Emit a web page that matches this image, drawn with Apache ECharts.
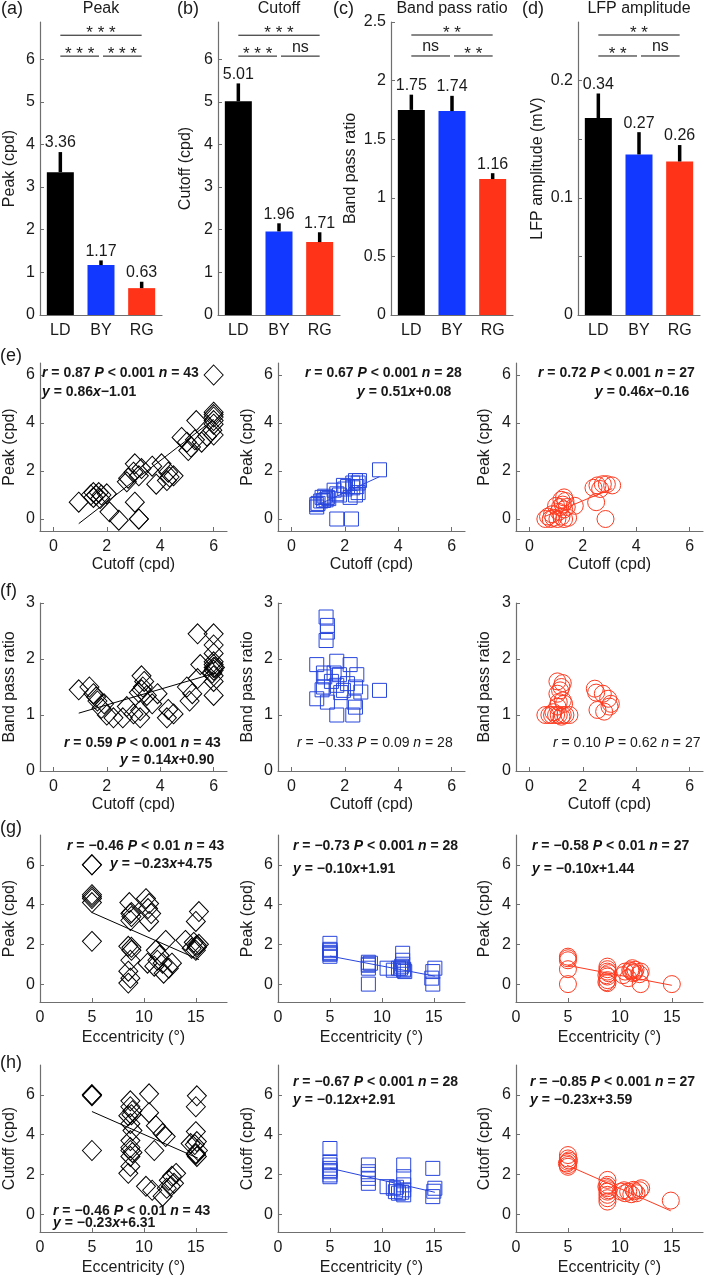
<!DOCTYPE html>
<html><head><meta charset="utf-8">
<script src="https://cdn.jsdelivr.net/npm/echarts@6/dist/echarts.min.js"></script>
<style>html,body{margin:0;padding:0;background:#fff}#c{width:704px;height:1278px}</style>
</head><body><div id="c"></div>
<script>
// ================= DATA =================
const groups = ['LD', 'BY', 'RG'];

const peakMean = [3.35, 1.17, 0.63];
const peakErrTop = [3.82, 1.28, 0.78];
const peakLabel = ['3.36', '1.17', '0.63'];
const peakSig = ['***', '***', '***'];          // LD-RG, LD-BY, BY-RG

const cutoffMean = [5.01, 1.96, 1.71];
const cutoffErrTop = [5.43, 2.15, 1.94];
const cutoffLabel = ['5.01', '1.96', '1.71'];
const cutoffSig = ['***', '***', 'ns'];

const bprMean = [1.75, 1.74, 1.16];
const bprErrTop = [1.88, 1.87, 1.21];
const bprLabel = ['1.75', '1.74', '1.16'];
const bprSig = ['**', 'ns', '**'];

const lfpMean = [0.168, 0.137, 0.131];
const lfpErrTop = [0.189, 0.156, 0.145];
const lfpLabel = ['0.34', '0.27', '0.26'];
const lfpSig = ['**', '**', 'ns'];

// (e) Peak vs Cutoff
const peakCutLD = [[6.0,6.0],[6.0,4.45],[6.0,4.35],[6.0,4.25],[6.0,4.1],[6.0,3.95],[5.95,3.7],[6.0,3.5],[5.35,4.1],[4.8,3.4],[5.0,3.2],[5.15,3.0],[5.05,2.85],[5.3,3.3],[5.55,3.2],[5.75,3.45],[3.05,2.3],[3.3,2.1],[3.0,1.95],[2.8,1.7],[3.2,1.8],[3.7,2.2],[4.05,2.3],[4.3,1.95],[4.35,1.75],[3.85,1.45],[4.5,1.8],[4.25,1.6],[1.4,1.0],[1.5,1.1],[1.6,1.0],[1.7,1.1],[1.75,0.85],[1.8,1.0],[1.5,0.9],[2.0,1.05],[0.95,0.7],[2.1,0.3],[2.45,-0.05],[3.05,0.7],[3.2,0.0],[3.2,0.0],[2.75,1.55]];
const peakCutBY = [[3.3,2.05],[2.3,1.5],[2.4,1.6],[2.5,1.5],[2.45,1.35],[2.3,1.3],[2.55,1.6],[2.4,1.0],[2.2,0.9],[1.95,1.4],[2.0,1.25],[1.7,1.05],[1.8,1.0],[1.35,0.9],[1.2,0.77],[1.15,0.9],[1.3,0.8],[1.0,0.65],[0.95,0.5],[0.95,0.6],[1.1,0.75],[1.25,0.95],[1.6,1.2],[2.1,1.35],[1.7,0.0],[2.25,0.0],[1.4,0.85],[2.5,1.1]];
const peakCutRG = [[2.85,0.0],[2.5,0.7],[2.4,1.3],[2.55,1.4],[2.75,1.45],[2.9,1.45],[3.1,1.4],[2.65,1.25],[1.7,0.55],[1.3,0.9],[1.2,0.8],[1.35,0.75],[1.25,0.6],[1.0,0.55],[1.15,0.5],[1.4,0.5],[1.3,0.4],[0.6,0.0],[0.8,0.0],[0.9,0.05],[1.05,0.0],[1.2,0.1],[1.3,0.0],[1.45,0.05],[0.7,0.1],[1.1,0.3],[0.85,0.2]];
const peakCutFit = [[0.86,-1.01],[0.51,0.08],[0.46,-0.16]];

// (f) Band pass ratio vs Cutoff
const bprCutLD = [[6.0,2.45],[5.4,2.45],[6.0,2.25],[6.0,2.1],[6.0,1.95],[6.0,1.9],[6.0,1.85],[6.0,1.8],[5.95,1.75],[6.05,1.85],[6.0,1.7],[6.0,1.6],[6.0,1.35],[5.5,1.9],[5.4,1.65],[5.0,1.5],[5.2,1.38],[5.1,1.25],[4.3,1.1],[4.5,1.02],[4.25,0.95],[3.9,1.38],[3.7,1.2],[3.3,1.7],[3.4,1.6],[3.35,1.5],[3.3,1.45],[3.2,1.4],[3.5,1.35],[3.25,1.08],[3.25,0.95],[3.0,1.02],[2.75,1.15],[2.6,0.95],[0.95,1.45],[1.35,1.5],[1.5,1.38],[1.6,1.32],[1.65,1.25],[1.8,1.12],[2.0,1.0],[2.25,0.95],[1.9,1.2]];
const bprCutBY = [[1.3,2.75],[1.35,2.6],[1.35,2.48],[1.3,2.33],[0.95,1.9],[1.7,1.96],[2.2,1.9],[1.2,1.75],[1.6,1.75],[1.25,1.68],[1.8,1.72],[2.45,1.72],[1.2,1.5],[1.15,1.45],[1.7,1.53],[2.1,1.56],[2.4,1.5],[2.6,1.41],[1.95,1.44],[1.85,1.4],[3.3,1.44],[0.95,1.29],[1.35,1.23],[2.35,1.23],[2.4,1.14],[1.7,1.0],[2.3,1.0],[1.5,1.6]];
const bprCutRG = [[1.05,1.6],[1.25,1.57],[1.2,1.5],[1.15,1.44],[1.05,1.38],[1.1,1.23],[1.25,1.26],[1.3,1.2],[1.05,1.15],[0.6,1.0],[0.75,1.0],[0.85,1.0],[1.0,1.0],[1.1,1.0],[1.25,1.0],[1.35,1.0],[1.5,1.0],[0.9,1.05],[1.2,0.97],[2.45,1.47],[2.5,1.4],[2.75,1.38],[2.95,1.29],[3.05,1.2],[2.55,1.09],[2.8,1.06],[3.0,1.15]];
const bprCutFit = [[0.14,0.90], null, null];

// (g) Peak vs Eccentricity
const peakEccLD = [[5,6.0],[5,6.0],[5,4.5],[5,4.4],[5,4.3],[5,4.1],[5,2.15],[8.6,4.1],[8.7,3.55],[8.8,3.4],[8.7,3.2],[8.8,3.6],[8.5,1.9],[8.8,1.7],[8.7,1.2],[8.5,0.65],[8.7,0.3],[8.5,0.05],[8.8,1.85],[10.2,4.3],[10.5,4.05],[10.4,3.8],[10.7,3.55],[10.5,3.15],[10.35,1.05],[12.1,2.2],[11.15,1.7],[11.5,1.45],[11.3,1.2],[11.8,1.05],[11.0,0.9],[11.9,0.55],[12.7,1.05],[12.4,0.8],[15.3,3.65],[15.0,3.15],[14.0,2.2],[14.8,2.1],[15.1,1.95],[15.0,1.7],[15.3,2.0],[14.6,1.8],[15.1,1.85]];
const peakEccBY = [[5,2.05],[5,1.7],[5,1.55],[5,1.4],[5,1.6],[5,1.75],[5,1.5],[8.7,1.1],[8.7,0.95],[8.7,0.8],[8.7,1.0],[8.7,0.0],[8.9,1.05],[10.5,0.8],[11.1,0.7],[12.0,1.55],[12.0,1.2],[11.8,0.8],[12.1,0.7],[11.9,0.9],[12.2,0.63],[11.6,0.8],[12.0,1.0],[12.1,0.75],[15.1,0.8],[14.9,0.63],[14.8,0.3],[14.9,0.0]];
const peakEccRG = [[5,1.38],[5,1.3],[5,1.2],[5,0.75],[5,0.0],[8.8,0.88],[8.8,0.63],[8.8,0.38],[8.8,0.2],[8.8,0.05],[8.7,0.45],[8.9,0.55],[8.8,0.75],[10.5,0.63],[11.0,0.7],[11.2,0.8],[11.5,0.72],[11.3,0.55],[10.8,0.3],[11.1,0.65],[11.4,0.6],[12.0,0.63],[12.0,0.0],[11.9,0.5],[15.0,0.0],[10.3,0.45],[8.7,0.1]];
const peakEccFit = [[-0.23,4.75],[-0.10,1.91],[-0.10,1.44]];

// (h) Cutoff vs Eccentricity
const cutEccLD = [[5,6.0],[5,6.0],[5,5.95],[5,3.2],[8.7,5.7],[8.7,5.4],[8.9,5.2],[8.5,4.95],[8.7,4.55],[8.9,4.2],[8.7,3.7],[8.7,3.35],[8.9,3.1],[8.7,2.9],[8.7,2.4],[8.5,2.05],[8.8,5.0],[8.7,3.2],[10.5,6.05],[10.5,5.1],[11.15,4.45],[11.8,4.05],[12.1,3.9],[11.0,3.2],[10.2,1.4],[10.8,1.2],[11.8,0.9],[12.4,1.7],[12.7,1.9],[12.9,1.55],[12.6,1.4],[13.1,2.05],[12.2,1.3],[15.1,5.95],[15.0,5.4],[15.0,4.15],[14.9,3.5],[15.1,3.65],[15.0,3.05],[15.1,2.9],[15.2,3.2],[14.5,3.55],[15.0,3.0]];
const cutEccBY = [[5,3.3],[5,2.63],[5,2.47],[5,2.3],[5,2.13],[5,1.97],[5,1.88],[5,2.2],[8.7,2.47],[8.7,2.13],[8.7,1.8],[8.7,1.55],[8.7,2.0],[10.5,1.38],[11.1,1.3],[11.3,1.13],[11.6,1.05],[11.4,1.35],[12.1,2.47],[12.1,1.88],[12.1,1.47],[12.1,1.22],[12.1,0.97],[11.9,1.1],[14.9,2.3],[15.1,1.3],[14.9,0.88],[15.0,1.15]];
const cutEccRG = [[5,2.97],[5,2.8],[5,2.63],[5,2.47],[5,2.38],[4.9,2.55],[5.1,2.7],[8.8,1.72],[8.8,1.47],[8.8,1.3],[8.8,1.13],[8.8,0.97],[8.8,0.8],[8.8,0.63],[8.7,1.38],[8.9,1.2],[10.1,1.13],[10.5,1.05],[10.8,1.13],[11.3,1.22],[11.6,1.05],[12.05,1.3],[10.4,1.2],[11.4,1.15],[11.1,1.0],[11.9,1.2],[14.9,0.68]];
const cutEccFit = [[-0.23,6.31],[-0.12,2.91],[-0.23,3.59]];

// annotation texts
const peakCutStats = [['{i|r} = 0.87 {i|P} < 0.001 {i|n} = 43', '{i|y} = 0.86{i|x}\u22121.01'], ['{i|r} = 0.67 {i|P} < 0.001 {i|n} = 28', '{i|y} = 0.51{i|x}+0.08'], ['{i|r} = 0.72 {i|P} < 0.001 {i|n} = 27', '{i|y} = 0.46{i|x}\u22120.16']];
const bprCutStats = [['{i|r} = 0.59 {i|P} < 0.001 {i|n} = 43', '{i|y} = 0.14{i|x}+0.90'], ['{j|r} = \u22120.33 {j|P} = 0.09 {j|n} = 28'], ['{j|r} = 0.10 {j|P} = 0.62 {j|n} = 27']];
const peakEccStats = [['{i|r} = \u22120.46 {i|P} < 0.01 {i|n} = 43', '{i|y} = \u22120.23{i|x}+4.75'], ['{i|r} = \u22120.73 {i|P} < 0.001 {i|n} = 28', '{i|y} = \u22120.10{i|x}+1.91'], ['{i|r} = \u22120.58 {i|P} < 0.01 {i|n} = 27', '{i|y} = \u22120.10{i|x}+1.44']];
const cutEccStats = [['{i|r} = \u22120.46 {i|P} < 0.01 {i|n} = 43', '{i|y} = \u22120.23{i|x}+6.31'], ['{i|r} = \u22120.67 {i|P} < 0.001 {i|n} = 28', '{i|y} = \u22120.12{i|x}+2.91'], ['{i|r} = \u22120.85 {i|P} < 0.001 {i|n} = 27', '{i|y} = \u22120.23{i|x}+3.59']];

// ================= STYLE / LAYOUT =================
const FONT = '"Liberation Sans", Arial, Helvetica, sans-serif';
const AXIS = '#6f6f6f';
const TXT = '#1a1a1a';
const FS = 16;
const barColors = ['#000000', '#1238ff', '#ff3318'];
const markColors = ['#000000', '#2846dc', '#ff3a1f'];
const markSymbols = ['diamond', 'rect', 'circle'];
const markSizes = [[19, 20], 14, 17];

const grids = [], xAxes = [], yAxes = [], series = [], graphics = [];

function addText(text, x, y, o) {
  o = o || {};
  graphics.push({ type: 'text', x: x, y: y, silent: true, z: 100, style: {
    text: text, fill: TXT, fontSize: o.size || FS, fontFamily: FONT, fontWeight: o.weight || 'normal',
    align: o.align || 'left', verticalAlign: o.valign || 'middle', rich: o.rich
  }});
}

function baseAxis() {
  return {
    axisLine: { show: true, onZero: false, lineStyle: { color: AXIS, width: 1.2 } },
    axisTick: { show: true, inside: true, length: 4, lineStyle: { color: AXIS, width: 1 } },
    axisLabel: { color: TXT, fontSize: FS, fontFamily: FONT },
    splitLine: { show: false },
    nameTextStyle: { color: TXT, fontSize: FS, fontFamily: FONT },
    nameLocation: 'middle'
  };
}

// ---- bar panels ----
const barPanels = [
  { tag: '(a)', tagX: 1, title: 'Peak', yName: 'Peak (cpd)', mean: peakMean, err: peakErrTop, lab: peakLabel, sig: peakSig, ymax: 6.87, ticks: [0,1,2,3,4,5,6], labs: [0,1,2,3,4,5,6], sigY: [6.56, 6.07], left: 40, gap: 22 },
  { tag: '(b)', tagX: 177, title: 'Cutoff', yName: 'Cutoff (cpd)', mean: cutoffMean, err: cutoffErrTop, lab: cutoffLabel, sig: cutoffSig, ymax: 6.87, ticks: [0,1,2,3,4,5,6], labs: [0,1,2,3,4,5,6], sigY: [6.56, 6.07], left: 218, gap: 24.5 },
  { tag: '(c)', tagX: 333, title: 'Band pass ratio', yName: 'Band pass ratio', mean: bprMean, err: bprErrTop, lab: bprLabel, sig: bprSig, ymax: 2.5, ticks: [0,0.5,1,1.5,2,2.5], labs: [0,0.5,1,1.5,2,2.5], sigY: [2.389, 2.21], left: 391, gap: 32.5 },
  { tag: '(d)', tagX: 522, title: 'LFP amplitude', yName: 'LFP amplitude (mV)', mean: lfpMean, err: lfpErrTop, lab: lfpLabel, sig: lfpSig, ymax: 0.25, ticks: [0,0.05,0.1,0.15,0.2], labs: [0,0.1,0.2], sigY: [0.2389, 0.221], left: 578, gap: 32.5 }
];

barPanels.forEach((p, i) => {
  grids.push({ left: p.left, top: 22, width: 122, height: 293, containLabel: false, outerBoundsMode: 'none' });
  const xa = baseAxis();
  Object.assign(xa, { type: 'category', gridIndex: i, data: groups });
  xa.axisTick = { show: false };
  xa.axisLabel = Object.assign({}, xa.axisLabel, { margin: 8, interval: 0 });
  xAxes.push(xa);
  const ya = baseAxis();
  Object.assign(ya, { type: 'value', gridIndex: i, min: 0, max: p.ymax, name: p.yName, nameGap: p.gap });
  ya.axisTick = Object.assign({}, ya.axisTick, { customValues: p.ticks });
  ya.axisLabel = Object.assign({}, ya.axisLabel, { margin: 5, customValues: p.labs });
  yAxes.push(ya);
  series.push({ type: 'bar', xAxisIndex: i, yAxisIndex: i, barWidth: 27, silent: true,
    data: p.mean.map((v, j) => ({ value: v, itemStyle: { color: barColors[j] } })) });
  const lab = p.lab;
  series.push({ type: 'custom', xAxisIndex: i, yAxisIndex: i, silent: true, z: 4, clip: false,
    data: p.mean.map((v, j) => [j, v, p.err[j]]),
    renderItem: (params, api) => {
      const a = api.coord([api.value(0), api.value(1)]);
      const b = api.coord([api.value(0), api.value(2)]);
      return { type: 'group', children: [
        { type: 'line', shape: { x1: a[0], y1: a[1], x2: b[0], y2: b[1] }, style: { stroke: '#000', lineWidth: 3.5 } },
        { type: 'text', style: { text: lab[params.dataIndex], x: b[0], y: b[1] - 1, align: 'center', verticalAlign: 'bottom', fontSize: FS, fontFamily: FONT, fill: TXT } }
      ]};
    } });
  const sig = p.sig;
  series.push({ type: 'custom', xAxisIndex: i, yAxisIndex: i, silent: true, z: 5, clip: false,
    data: [[0, 2, p.sigY[0], 0], [0, 1, p.sigY[1], 1], [1, 2, p.sigY[1], 2]],
    renderItem: (params, api) => {
      const a = api.coord([api.value(0), api.value(2)]);
      const b = api.coord([api.value(1), api.value(2)]);
      const k = api.value(3);
      let x1 = a[0], x2 = b[0];
      if (k === 1) x2 -= 2;
      if (k === 2) x1 += 2;
      const t = sig[params.dataIndex];
      const star = t.indexOf('*') >= 0;
      return { type: 'group', children: [
        { type: 'line', shape: { x1: x1, y1: a[1], x2: x2, y2: a[1] }, style: { stroke: '#111', lineWidth: 1 } },
        { type: 'text', style: { text: star ? t.split('').join(' ') : t, x: (x1 + x2) / 2, y: a[1] + (star ? 7 : -1), align: 'center', verticalAlign: 'bottom', fontSize: star ? 17 : FS, fontFamily: FONT, fill: '#222' } }
      ]};
    } });
  addText(p.tag, p.tagX, 9, { size: 18 });
  addText(p.title, p.left + 61, 9, { align: 'center' });
});

// ---- scatter panels ----
const colLefts = [40, 278, 516];
const colGaps = [22, 22.5, 23.5];
const rows = [
  { tag: '(e)', tagY: 356, top: 363, h: 168, xName: 'Cutoff (cpd)', yName: 'Peak (cpd)', xr: [-0.5, 6.5], yr: [-0.5, 6.5], xt: [0,2,4,6], yt: [0,2,4,6], sets: [peakCutLD, peakCutBY, peakCutRG], fits: peakCutFit, stats: peakCutStats, xGap: 25.5,
    statPos: [[[42,373],[42,392]], [[305,373],[357,392]], [[538,373],[595,392]]] },
  { tag: '(f)', tagY: 591, top: 603, h: 168, xName: 'Cutoff (cpd)', yName: 'Band pass ratio', xr: [-0.5, 6.5], yr: [0, 3], xt: [0,2,4,6], yt: [0,1,2,3], sets: [bprCutLD, bprCutBY, bprCutRG], fits: bprCutFit, stats: bprCutStats, xGap: 25.5,
    statPos: [[[64,743],[120,760]], [[297,743]], [[553,743]]] },
  { tag: '(g)', tagY: 828, top: 835, h: 167, xName: 'Eccentricity (\u00b0)', yName: 'Peak (cpd)', xr: [0, 18], yr: [-0.9, 7.5], xt: [0,5,10,15], yt: [0,2,4,6], sets: [peakEccLD, peakEccBY, peakEccRG], fits: peakEccFit, stats: peakEccStats, xGap: 27.5,
    statPos: [[[67,846],[110,864]], [[293,846],[293,869]], [[532,846],[532,869]]] },
  { tag: '(h)', tagY: 1063, top: 1065, h: 167, xName: 'Eccentricity (\u00b0)', yName: 'Cutoff (cpd)', xr: [0, 18], yr: [-0.9, 7.5], xt: [0,5,10,15], yt: [0,2,4,6], sets: [cutEccLD, cutEccBY, cutEccRG], fits: cutEccFit, stats: cutEccStats, xGap: 27.5,
    statPos: [[[53,1211],[53,1223]], [[293,1082],[293,1100]], [[530,1082],[530,1100]]] }
];

const richStyles = {
  i: { fontStyle: 'italic', fontWeight: 'bold', fontSize: 14, fontFamily: FONT, fill: '#111' },
  j: { fontStyle: 'italic', fontWeight: 'normal', fontSize: 14, fontFamily: FONT, fill: '#111' }
};

rows.forEach((r) => {
  addText(r.tag, 0, r.tagY, { size: 18 });
  r.sets.forEach((pts, c) => {
    const gi = grids.length;
    grids.push({ left: colLefts[c], top: r.top, width: 187, height: r.h, containLabel: false, outerBoundsMode: 'none' });
    const xa = baseAxis();
    Object.assign(xa, { type: 'value', gridIndex: gi, min: r.xr[0], max: r.xr[1], name: r.xName, nameGap: r.xGap });
    xa.axisTick = Object.assign({}, xa.axisTick, { customValues: r.xt });
    xa.axisLabel = Object.assign({}, xa.axisLabel, { margin: 8, customValues: r.xt });
    xAxes.push(xa);
    const ya = baseAxis();
    Object.assign(ya, { type: 'value', gridIndex: gi, min: r.yr[0], max: r.yr[1], name: r.yName, nameGap: colGaps[c] });
    ya.axisTick = Object.assign({}, ya.axisTick, { customValues: r.yt });
    ya.axisLabel = Object.assign({}, ya.axisLabel, { margin: 5, customValues: r.yt });
    yAxes.push(ya);
    series.push({ type: 'scatter', xAxisIndex: gi, yAxisIndex: gi, silent: true, data: pts,
      symbol: markSymbols[c], symbolSize: markSizes[c],
      itemStyle: { color: 'rgba(0,0,0,0)', borderColor: markColors[c], borderWidth: 1, opacity: 1 } });
    const f = r.fits[c];
    if (f) {
      const xs = pts.map(p => p[0]);
      const x0 = Math.min.apply(null, xs), x1 = Math.max.apply(null, xs);
      series.push({ type: 'line', xAxisIndex: gi, yAxisIndex: gi, silent: true, symbol: 'none', z: 3,
        data: [[x0, f[0] * x0 + f[1]], [x1, f[0] * x1 + f[1]]],
        lineStyle: { color: markColors[c], width: 1 } });
    }
    r.stats[c].forEach((s, k) => {
      const pos = r.statPos[c][k];
      const bold = s.indexOf('{j|') < 0;
      addText(s, pos[0], pos[1], { size: 14, weight: bold ? 'bold' : 'normal', rich: richStyles });
    });
  });
});

const chart = echarts.init(document.getElementById('c'), null, { renderer: 'canvas' });
chart.setOption({
  animation: false,
  backgroundColor: '#ffffff',
  textStyle: { fontFamily: FONT },
  grid: grids, xAxis: xAxes, yAxis: yAxes, series: series,
  graphic: { elements: graphics }
});
</script>
</body></html>
